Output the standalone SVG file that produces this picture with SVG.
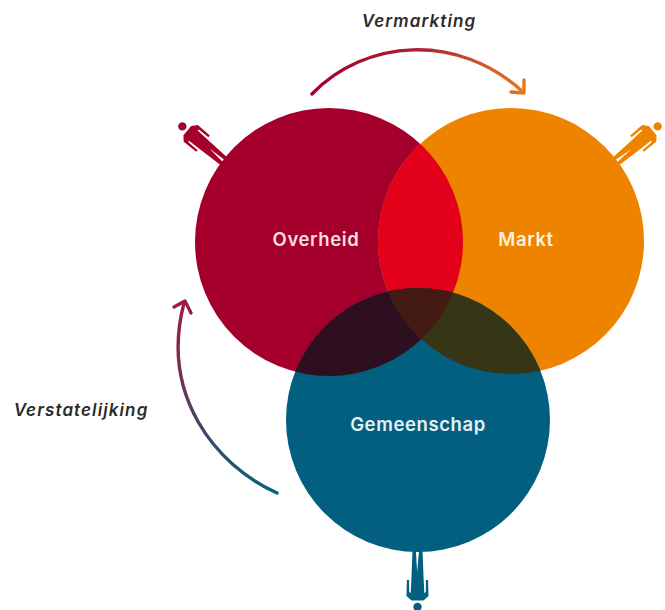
<svg xmlns="http://www.w3.org/2000/svg" xmlns:xlink="http://www.w3.org/1999/xlink" width="665" height="610" viewBox="0 0 665 610">
  <style>
    .label { font-family: "Inter", "Liberation Sans", sans-serif; font-size: 18.5px; font-weight: 600; letter-spacing: 0.6px; text-anchor: middle; }
    .flow { font-family: "Inter", "Liberation Sans", sans-serif; font-size: 17px; font-weight: 600; font-style: italic; fill: #2b2b2b; text-anchor: middle; letter-spacing: 1.1px; }
    .arc { fill: none; stroke-width: 3.4; stroke-linecap: round; stroke-linejoin: round; }
  </style>
  <defs>
    <clipPath id="clipO"><circle cx="329" cy="242" r="134"/></clipPath>
    <clipPath id="clipM"><circle cx="511" cy="241" r="133"/></clipPath>
    <linearGradient id="gradTop" gradientUnits="userSpaceOnUse" x1="311" y1="95" x2="525" y2="95">
      <stop offset="0" stop-color="#a5002b"/><stop offset="0.5" stop-color="#a8203a"/><stop offset="1" stop-color="#e87a1a"/>
    </linearGradient>
    <linearGradient id="gradLeft" gradientUnits="userSpaceOnUse" x1="180" y1="305" x2="277" y2="493">
      <stop offset="0" stop-color="#9c1d42"/><stop offset="1" stop-color="#00657f"/>
    </linearGradient>
    <g id="person">
      <circle cx="0" cy="-57" r="4.2"/>
      <path d="M-6 -50.5 H6 L11 -46 L10.6 -30 H8.4 L8.3 -42 L6.8 -43 L6 -26 L5 0 H1.6 L0.4 -22 L-1.6 0 H-5 L-6 -26 L-6.8 -43 L-8.3 -42 L-8.4 -30 H-10.6 L-11 -46 Z"/>
    </g>
  </defs>

  <g id="overheid">
    <circle cx="329" cy="242" r="134" fill="#a5002b"/>
    <use xlink:href="#person" href="#person" fill="#a5002b" transform="translate(226 163) rotate(-50)"/>
    <text class="label" x="316" y="246" fill="#f6dfe2">Overheid</text>
  </g>
  <g id="markt">
    <circle cx="511" cy="241" r="133" fill="#ee8300"/>
    <use xlink:href="#person" href="#person" fill="#ee8300" transform="translate(614 163) rotate(50)"/>
    <text class="label" x="526" y="246" fill="#fdf0dc">Markt</text>
  </g>
  <g id="gemeenschap">
    <circle cx="418" cy="420" r="132" fill="#035f80"/>
    <use xlink:href="#person" href="#person" fill="#035f80" transform="translate(417.5 550) rotate(180)"/>
    <text class="label" x="418" y="431" fill="#e6f0f3">Gemeenschap</text>
  </g>
  <g id="overlaps">
    <g clip-path="url(#clipO)"><circle cx="511" cy="241" r="133" fill="#e2001a"/></g>
    <g clip-path="url(#clipO)"><circle cx="418" cy="420" r="132" fill="#2e0f20"/></g>
    <g clip-path="url(#clipM)"><circle cx="418" cy="420" r="132" fill="#363515"/></g>
    <g clip-path="url(#clipO)"><g clip-path="url(#clipM)"><circle cx="418" cy="420" r="132" fill="#431a14"/></g></g>
  </g>
  <g id="connectors">
    <path class="arc" stroke="url(#gradTop)" d="M312 94 C365 39 458 32 523 92"/>
    <path class="arc" stroke="url(#gradTop)" d="M524 80 L524 93 L511 92"/>
    <path class="arc" stroke="url(#gradLeft)" d="M277 493 C215 465 160 395 184 303"/>
    <path class="arc" stroke="url(#gradLeft)" d="M174 307 L185 301 L191 313"/>
  </g>
  <text class="flow" x="419" y="27">Vermarkting</text>
  <text class="flow" x="81" y="416">Verstatelijking</text>
</svg>
